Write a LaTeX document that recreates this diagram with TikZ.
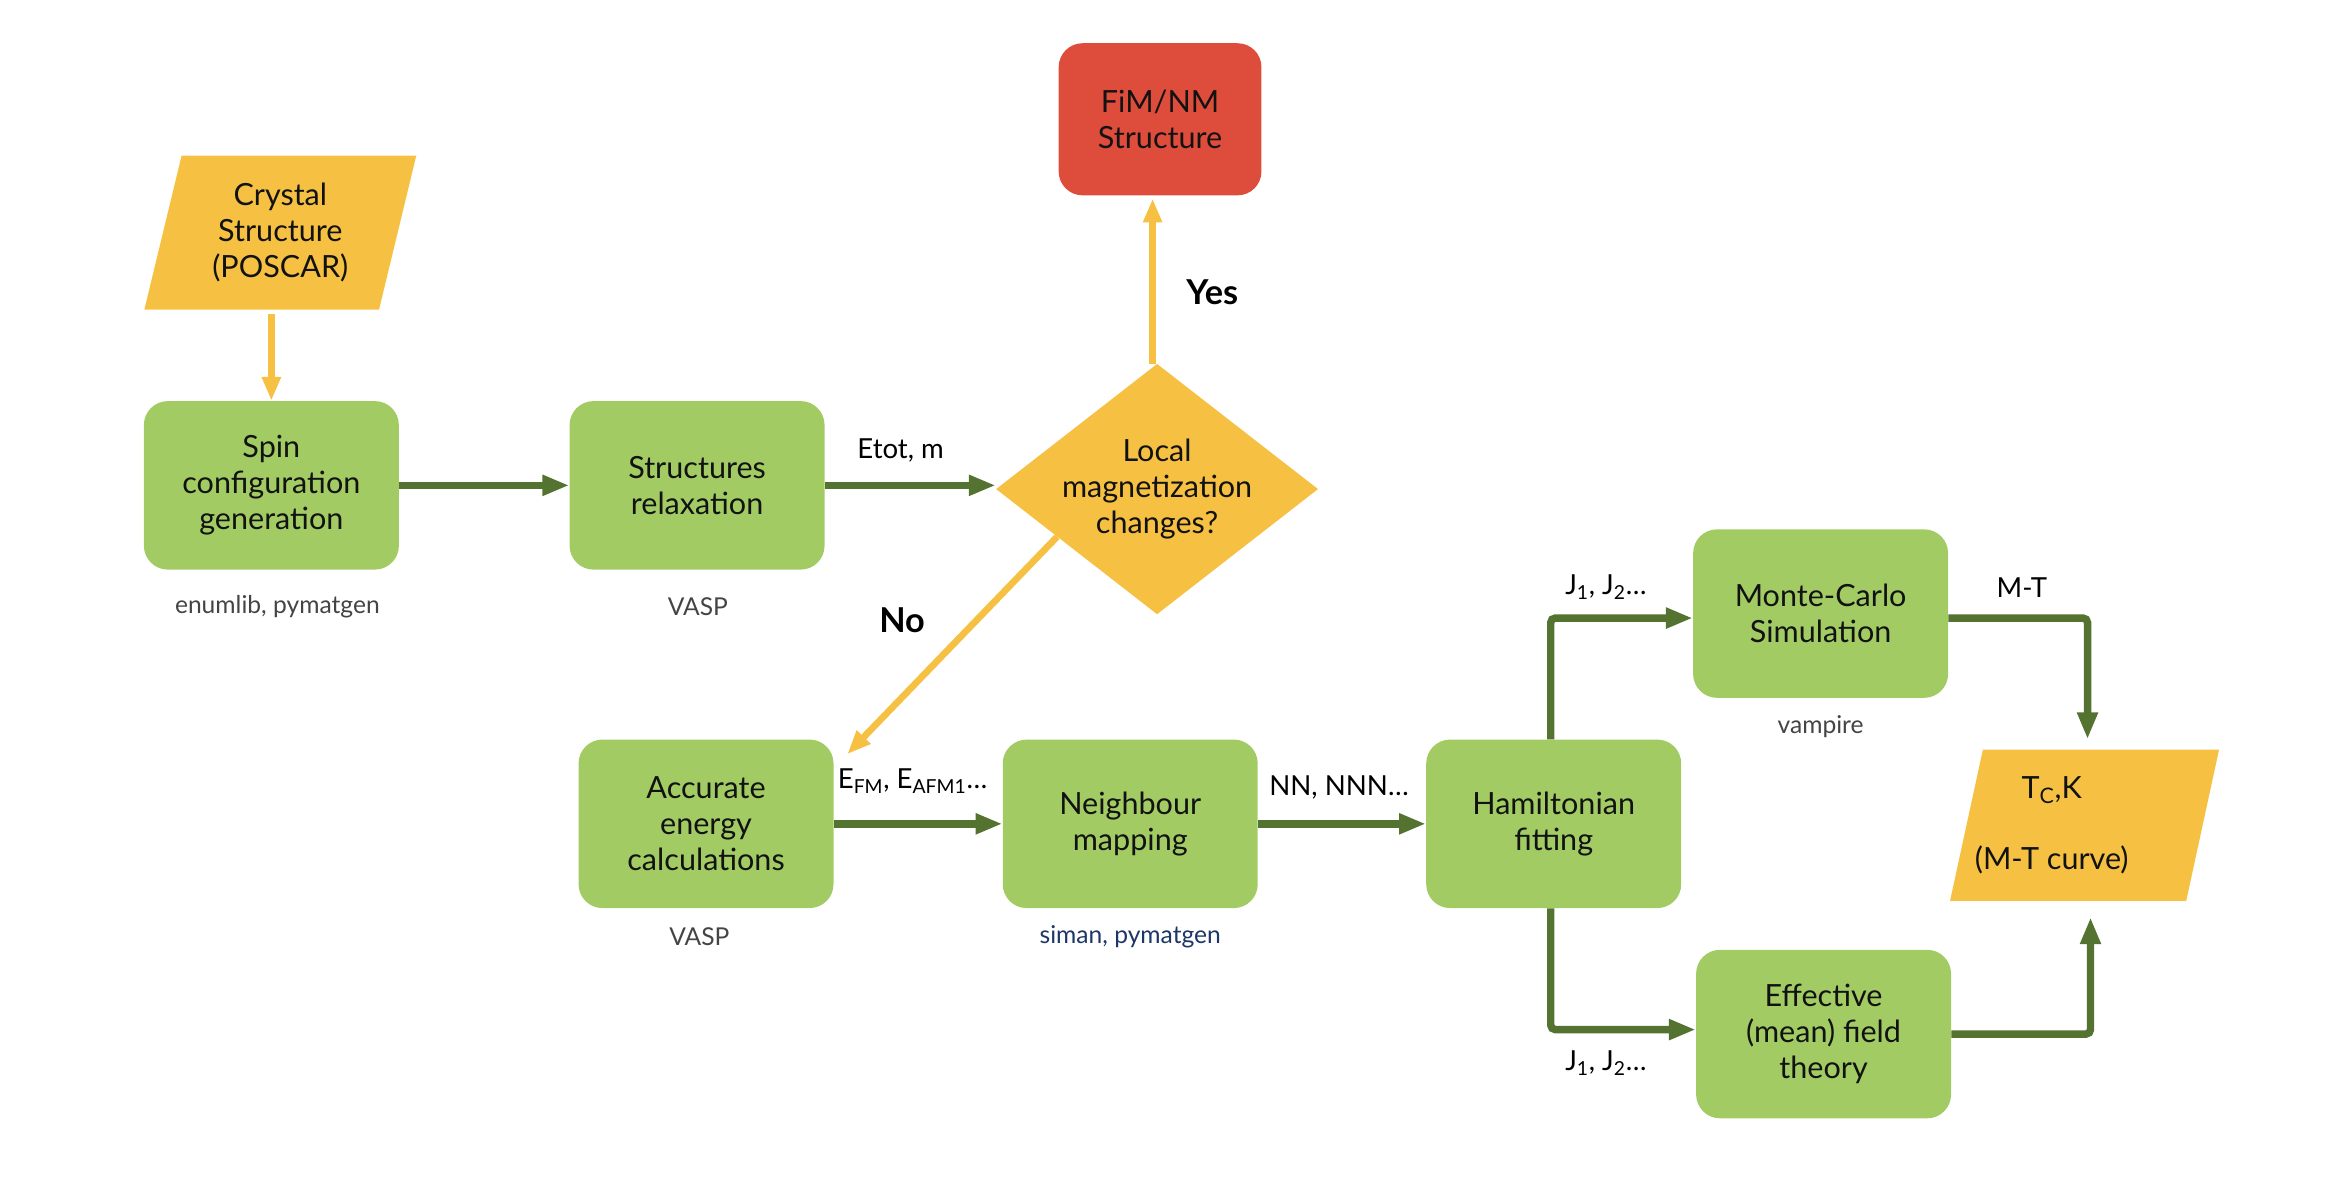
\documentclass[tikz,border=0pt]{standalone}
\usepackage{fontspec}
\setmainfont{Lato}
\usetikzlibrary{arrows.meta,shapes.geometric,calc,backgrounds}
\definecolor{cyel}{HTML}{F6C143}
\definecolor{cgrn}{HTML}{A2CC63}
\definecolor{cdark}{HTML}{557330}
\definecolor{cred}{HTML}{DE4D3C}
\definecolor{cblue}{HTML}{1D3667}
\definecolor{cgrey}{HTML}{444444}
\begin{document}
\begin{tikzpicture}[x=1pt,y=-1pt,
  boxtext/.style={font=\fontsize{20.5}{24}\selectfont, align=center, text=black!93},
  gbox/.style={rectangle, rounded corners=16pt, fill=cgrn, minimum width=171pt, minimum height=113pt, inner sep=0pt, boxtext},
  rbox/.style={rectangle, rounded corners=16pt, fill=cred, minimum width=136pt, minimum height=102pt, inner sep=0pt, boxtext},
  pbox/.style={rectangle, minimum width=157pt, minimum height=103pt, inner sep=0pt, boxtext},
  dia/.style={diamond, fill=cyel, minimum width=216pt, minimum height=168pt, inner sep=0pt},
  tool/.style={font=\fontsize{16.5}{19}\selectfont, text=cgrey},
  lab/.style={font=\fontsize{18.5}{21}\selectfont, text=black},
  yn/.style={font=\fontsize{23}{26}\selectfont\bfseries, text=black},
  garrow/.style={draw=cdark, line width=5pt, -{Triangle[length=18pt,width=13pt]}},
  yarrow/.style={draw=cyel, line width=4.5pt, -{Triangle[length=16pt,width=12pt]}}
]
\useasboundingbox (0,0) rectangle (1568,806);

% nodes
\node[pbox] (crystal) at (188,156) {Crystal\\Structure\\(POSCAR)};
\node[gbox] (spin) at (182,325.5) {Spin\\configuration\\generation};
\node[tool] (spint) at (186,407) {enumlib, pymatgen};
\node[gbox] (relax) at (467.5,325.5) {Structures\\relaxation};
\node[tool] (relaxt) at (468,407) {VASP};
\node[dia] (dm) at (776,328) {};
\node[boxtext] (dmt) at (dm.center) {Local\\magnetization\\changes?};
\node[rbox] (fim) at (778,80) {FiM/NM\\Structure};
\node[gbox] (acc) at (473.5,552.5) {Accurate\\energy\\calculations};
\node[tool] (acct) at (469,628) {VASP};
\node[gbox] (nb) at (758,552.5) {Neighbour\\mapping};
\node[tool, text=cblue] (nbt) at (758,628) {siman, pymatgen};
\node[gbox] (ham) at (1042,552.5) {Hamiltonian\\fitting};
\node[gbox] (mc) at (1221,411.5) {Monte-Carlo\\Simulation};
\node[tool] (mct) at (1221,487) {vampire};
\node[gbox] (eff) at (1223,693.5) {Effective\\(mean) field\\theory};
\node[pbox, minimum width=158pt, minimum height=101pt] (tc) at (1398,553.5) {};
\node[boxtext, inner sep=0pt] (tct) at (1376,553.5) {T\textsubscript{C},K\\[23pt](M-T curve)};

\begin{scope}[on background layer]
\fill[cyel] ($(crystal.north west)+(12.5,0)$) -- ($(crystal.north east)+(12.5,0)$)
  -- ($(crystal.south east)+(-12.5,0)$) -- ($(crystal.south west)+(-12.5,0)$) -- cycle;
\fill[cyel] ($(tc.north west)+(11,0)$) -- ($(tc.north east)+(11,0)$)
  -- ($(tc.south east)+(-11,0)$) -- ($(tc.south west)+(-11,0)$) -- cycle;
\end{scope}

% labels
\node[lab] (l1) at (604,302) {Etot, m};
\node[lab] (l2) at (612,524) {E\textsubscript{FM}, E\textsubscript{AFM1}…};
\node[lab] (l3) at (898,528) {NN, NNN…};
\node[lab] (l4) at (1077,394) {J\textsubscript{1}, J\textsubscript{2}…};
\node[lab] (l5) at (1077,713) {J\textsubscript{1}, J\textsubscript{2}…};
\node[lab] (l6) at (1356,394) {M-T};
\node[yn] (yes) at (813,196) {Yes};
\node[yn] (no) at (605,416) {No};

% connectors
\coordinate (cs) at ($(crystal.south -| spin.north)+(0,3)$);
\draw[yarrow] (cs) -- (spin.north);
\draw[garrow] (spin.east) -- (relax.west);
\draw[garrow] (relax.east) -- (relax.east -| dm.west);
\draw[yarrow] ($(dm.north)+(-3,0)$) -- ($(dm.north |- fim.south)+(-3,2)$);
\coordinate (nos) at ($(dm.west)!0.38!(dm.south)$);
\coordinate (noe) at ($(acc.north east)+(9,10)$);
\draw[yarrow] (nos) -- (noe);
\draw[garrow] (acc.east) -- (nb.west);
\draw[garrow] (nb.east) -- (ham.west);
\draw[garrow, rounded corners=3pt] ([xshift=-2pt]ham.north) |- ([yshift=-3pt]mc.west);
\draw[garrow, rounded corners=3pt] ([yshift=-3pt]mc.east) -| ([xshift=2pt, yshift=7pt]tc.north);
\draw[garrow, rounded corners=3pt] ([xshift=-2pt]ham.south) |- ([yshift=3pt]eff.west);
\draw[garrow, rounded corners=3pt] (eff.east) -| ([xshift=4pt, yshift=-11pt]tc.south);
\end{tikzpicture}
\end{document}
